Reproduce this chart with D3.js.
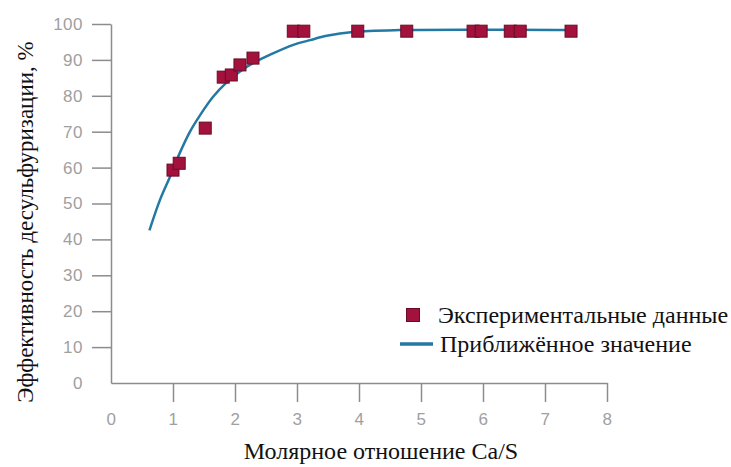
<!DOCTYPE html>
<html>
<head>
<meta charset="utf-8">
<script src="https://cdn.jsdelivr.net/npm/d3@7"></script>
<style>
  body { margin: 0; background: #fff; }
  .axis path, .axis line { stroke: #8c8c8c; stroke-width: 1.5; }
  .axis text { fill: #a0a0a0; font-family: "Liberation Sans", Arial, sans-serif; font-size: 17px; letter-spacing: 0.5px; }
  .title { font-family: "Liberation Serif", "Times New Roman", serif; fill: #111; }
</style>
</head>
<body>
<div id="chart"></div>
<script>
// experimental points (Ca/S, efficiency %)
var expX = [1.0, 1.1, 1.52, 1.81, 1.94, 2.08, 2.29, 2.94, 3.11, 3.98, 4.77, 5.84, 5.97, 6.44, 6.6, 7.42];
var expY = [59.3, 61.2, 71.0, 85.2, 85.8, 88.6, 90.5, 98.0, 98.0, 98.0, 98.0, 98.0, 98.0, 98.0, 98.0, 98.0];

// approximation curve
var fitX = [0.62, 0.79, 0.95, 1.11, 1.27, 1.44, 1.65, 1.87, 2.08, 2.29, 2.56, 2.94, 3.21, 3.48, 3.9, 4.66, 7.45];
var fitY = [42.5, 51.0, 57.4, 64.1, 69.9, 74.7, 79.8, 83.8, 86.8, 89.1, 91.4, 94.2, 95.5, 96.7, 97.8, 98.3, 98.3];

var xTicks = [0, 1, 2, 3, 4, 5, 6, 7, 8];
var yTicks = [0, 10, 20, 30, 40, 50, 60, 70, 80, 90, 100];

var legendLabels = ["Экспериментальные данные", "Приближённое значение"];
var xTitle = "Молярное отношение Ca/S";
var yTitle = "Эффективность десульфуризации, %";

var pointFill = "#a3123c", pointStroke = "#6a0b27", lineColor = "#2379a3";

var margin = {left: 111, right: 124, top: 24, bottom: 84},
    width = 731 - margin.left - margin.right,
    height = 467 - margin.top - margin.bottom;

var root = d3.select("#chart").append("svg")
    .attr("width", 731)
    .attr("height", 467);

var svg = root.append("g")
    .attr("transform", "translate(" + margin.left + "," + margin.top + ")");

var x = d3.scaleLinear().domain([0, 8]).range([0, width]);
var y = d3.scaleLinear().domain([0, 100]).range([height, 0]);

// axes
var xAxis = svg.append("g")
    .attr("class", "axis")
    .attr("transform", "translate(0," + height + ")")
    .call(d3.axisBottom(x).tickValues(xTicks).tickSizeInner(19).tickSizeOuter(0).tickPadding(11));

var yAxis = svg.append("g")
    .attr("class", "axis")
    .call(d3.axisLeft(y).tickValues(yTicks).tickSizeInner(19).tickSizeOuter(0).tickPadding(9));

// no tick marks at the origin
xAxis.selectAll(".tick").filter(function (d) { return d === 0; }).select("line").remove();
yAxis.selectAll(".tick").filter(function (d) { return d === 0; }).select("line").remove();

// fitted line
var fitData = fitX.map(function (v, i) { return {x: v, y: fitY[i]}; });
var line = d3.line()
    .curve(d3.curveCatmullRom.alpha(0.5))
    .x(function (d) { return x(d.x); })
    .y(function (d) { return y(d.y); });

svg.append("path")
    .datum(fitData)
    .attr("d", line)
    .attr("fill", "none")
    .attr("stroke", lineColor)
    .attr("stroke-width", 2.5);

// experimental squares
var sq = 12;
var expData = expX.map(function (v, i) { return {x: v, y: expY[i]}; });
svg.append("g").selectAll("rect")
    .data(expData)
    .enter().append("rect")
    .attr("x", function (d) { return x(d.x) - sq / 2; })
    .attr("y", function (d) { return y(d.y) - sq / 2; })
    .attr("width", sq)
    .attr("height", sq)
    .attr("fill", pointFill)
    .attr("stroke", pointStroke)
    .attr("stroke-width", 1);

// titles
root.append("text")
    .attr("class", "title")
    .attr("x", 381)
    .attr("y", 459)
    .attr("text-anchor", "middle")
    .style("font-size", "24px")
    .text(xTitle);

root.append("text")
    .attr("class", "title")
    .attr("transform", "translate(33,222) rotate(-90)")
    .attr("text-anchor", "middle")
    .style("font-size", "23px")
    .text(yTitle);

// legend
var legend = root.append("g").attr("transform", "translate(400,315)");
legend.append("rect")
    .attr("x", 6.5).attr("y", -6.5)
    .attr("width", 13).attr("height", 13)
    .attr("fill", pointFill)
    .attr("stroke", pointStroke);
legend.append("text")
    .attr("class", "title")
    .attr("x", 38).attr("y", 8)
    .style("font-size", "24px")
    .text(legendLabels[0]);
legend.append("line")
    .attr("x1", 0).attr("x2", 33)
    .attr("y1", 29).attr("y2", 29)
    .attr("stroke", lineColor)
    .attr("stroke-width", 3.5);
legend.append("text")
    .attr("class", "title")
    .attr("x", 40).attr("y", 37)
    .style("font-size", "24px")
    .text(legendLabels[1]);
</script>
</body>
</html>
